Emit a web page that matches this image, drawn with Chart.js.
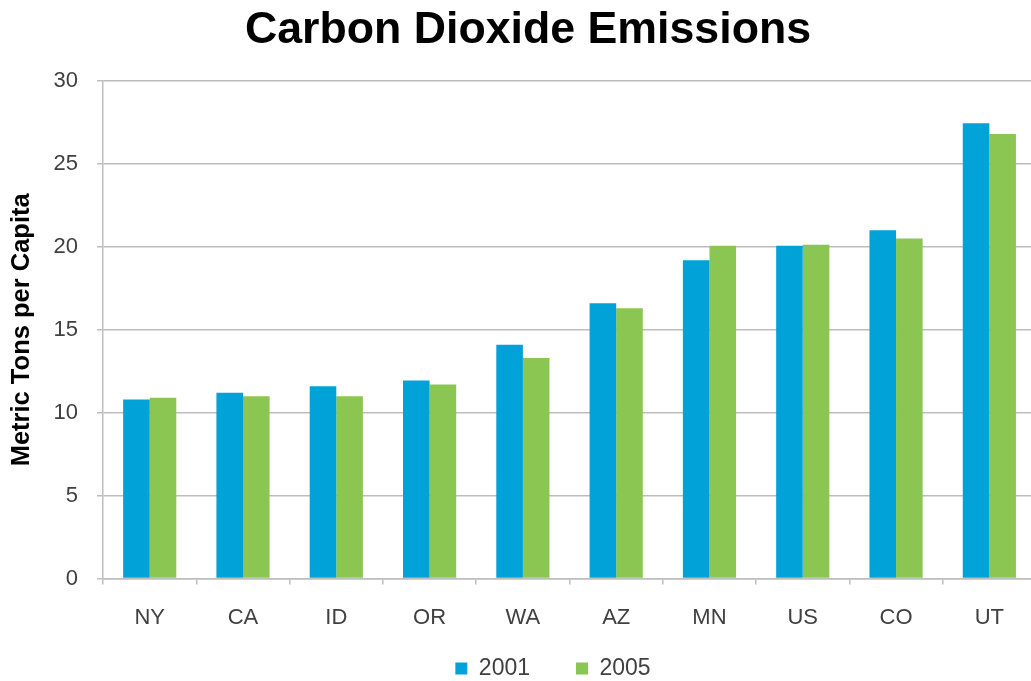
<!DOCTYPE html>
<html>
<head>
<meta charset="utf-8">
<title>Carbon Dioxide Emissions</title>
<script src="https://cdn.jsdelivr.net/npm/chart.js@4.4.1/dist/chart.umd.min.js"></script>
<style>
  html, body { margin: 0; padding: 0; background: #ffffff; overflow: hidden; }
  #wrap { width: 1056px; height: 681px; }
</style>
</head>
<body>
<div id="wrap"><canvas id="chart" width="1056" height="681"></canvas></div>
<script>
// Per-capita CO2 emissions by state (metric tons)
const categories = ['NY', 'CA', 'ID', 'OR', 'WA', 'AZ', 'MN', 'US', 'CO', 'UT'];
const series2001 = [10.8, 11.2, 11.6, 11.95, 14.1, 16.6, 19.2, 20.07, 21.0, 27.45];
const series2005 = [10.9, 11.0, 11.0, 11.7, 13.3, 16.3, 20.07, 20.13, 20.5, 26.8];
const yTicks = [0, 5, 10, 15, 20, 25, 30];

const FONT = "'Liberation Sans', Arial, sans-serif";
const GRID = '#bdbdbd';

// Nudges the title and legend blocks after layout
const blockShift = {
  id: 'blockShift',
  afterLayout(chart, args, opts) {
    const t = chart.titleBlock;
    if (t) { t.left += opts.titleDx; t.right += opts.titleDx; }
    const lg = chart.legend;
    if (lg) {
      lg.left += opts.legendDx; lg.right += opts.legendDx;
      lg.top += opts.legendDy;
    }
  }
};

new Chart(document.getElementById('chart'), {
  type: 'bar',
  data: {
    labels: categories,
    datasets: [
      { label: '2001', data: series2001, backgroundColor: '#00a2d8', borderWidth: 0 },
      { label: '2005', data: series2005, backgroundColor: '#8cc652', borderWidth: 0 }
    ]
  },
  options: {
    responsive: false,
    animation: false,
    datasets: { bar: { categoryPercentage: 0.57, barPercentage: 1.0 } },
    layout: { padding: { left: 0, right: 20, top: 0, bottom: 0 } },
    plugins: {
      title: {
        display: true,
        text: 'Carbon Dioxide Emissions',
        color: '#000000',
        font: { family: FONT, size: 44.7, weight: 'bold', lineHeight: 1.2 },
        padding: { top: 4, bottom: 23.4 }
      },
      legend: {
        position: 'bottom',
        maxHeight: 30,
        labels: {
          color: '#404040',
          font: { family: FONT, size: 23 },
          boxWidth: 12,
          boxHeight: 12,
          padding: 46
        }
      },
      blockShift: { titleDx: 10, legendDx: 35, legendDy: -40 },
      tooltip: { enabled: false }
    },
    scales: {
      x: {
        offset: true,
        grid: {
          offset: true,
          drawOnChartArea: false,
          drawTicks: true,
          tickLength: 6,
          color: GRID,
          lineWidth: 1.5
        },
        border: { display: true, color: GRID, width: 1.5 },
        ticks: {
          color: '#404040',
          font: { family: FONT, size: 22 },
          padding: 20
        }
      },
      y: {
        min: 0,
        max: 30,
        afterBuildTicks(axis) { axis.ticks = yTicks.map(v => ({ value: v })); },
        grid: {
          color: GRID,
          lineWidth: 1.5,
          drawTicks: true,
          tickLength: 6
        },
        border: { display: true, color: GRID, width: 1.5 },
        ticks: {
          color: '#404040',
          font: { family: FONT, size: 22 },
          padding: 19
        },
        title: {
          display: true,
          text: 'Metric Tons per Capita',
          color: '#000000',
          font: { family: FONT, size: 25.5, weight: 'bold', lineHeight: 1.2 },
          padding: { top: 7, bottom: -3 }
        }
      }
    }
  },
  plugins: [blockShift]
});
</script>
</body>
</html>
